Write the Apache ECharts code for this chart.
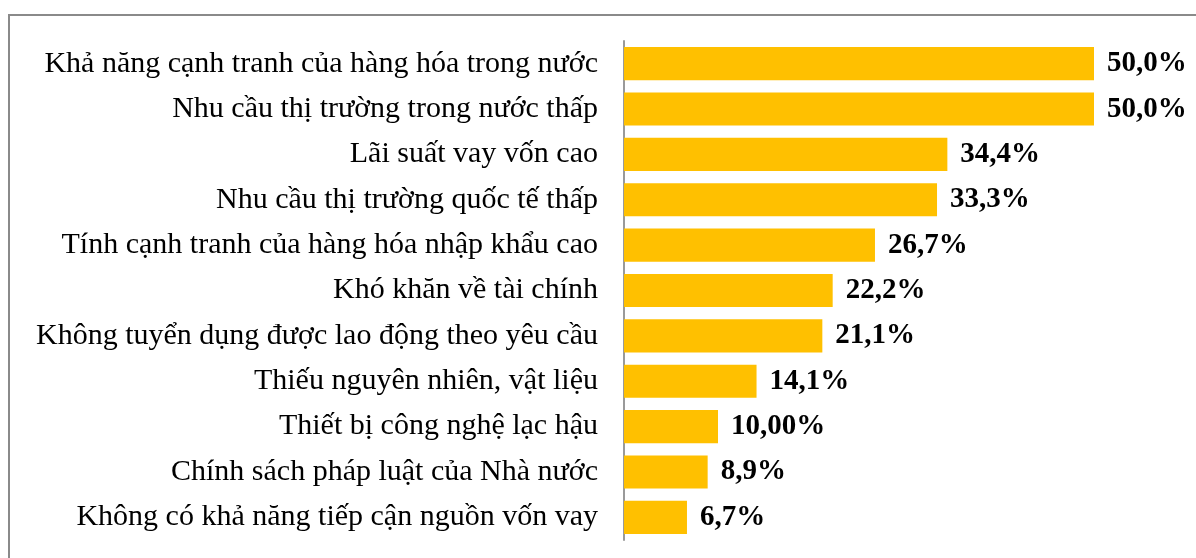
<!DOCTYPE html>
<html>
<head>
<meta charset="utf-8">
<script src="https://cdn.jsdelivr.net/npm/echarts@6/dist/echarts.min.js"></script>
<style>
    html, body { margin: 0; padding: 0; background: #fff; }
    #chart { width: 1196px; height: 558px; }
</style>
</head>
<body>
<div id="chart"></div>
<script>
// dữ liệu
var categories = [
    'Khả năng cạnh tranh của hàng hóa trong nước',
    'Nhu cầu thị trường trong nước thấp',
    'Lãi suất vay vốn cao',
    'Nhu cầu thị trường quốc tế thấp',
    'Tính cạnh tranh của hàng hóa nhập khẩu cao',
    'Khó khăn về tài chính',
    'Không tuyển dụng được lao động theo yêu cầu',
    'Thiếu nguyên nhiên, vật liệu',
    'Thiết bị công nghệ lạc hậu',
    'Chính sách pháp luật của Nhà nước',
    'Không có khả năng tiếp cận nguồn vốn vay'
];
var values = [50.0, 50.0, 34.4, 33.3, 26.7, 22.2, 21.1, 14.1, 10.0, 8.9, 6.7];
var valueLabels = ['50,0%', '50,0%', '34,4%', '33,3%', '26,7%', '22,2%', '21,1%', '14,1%', '10,00%', '8,9%', '6,7%'];

var chart = echarts.init(document.getElementById('chart'));
var option = {
    animation: false,
    graphic: [{
        type: 'rect',
        shape: { x: 9, y: 15, width: 1250, height: 600 },
        style: { fill: 'none', stroke: '#8a8a8a', lineWidth: 2 }
    }],
    grid: { left: 624, right: 102, top: 41, bottom: 18 },
    xAxis: {
        type: 'value',
        min: 0,
        max: 50,
        show: false
    },
    yAxis: {
        type: 'category',
        inverse: true,
        data: categories,
        axisLine: { show: true, lineStyle: { color: '#9a9a9a', width: 2 } },
        axisTick: { show: false },
        axisLabel: {
            margin: 26,
            color: '#000',
            fontFamily: 'Liberation Serif',
            fontSize: 30
        }
    },
    series: [{
        type: 'bar',
        data: values,
        barCategoryGap: '27%',
        itemStyle: { color: '#FFC000' },
        label: {
            show: true,
            position: 'right',
            distance: 13,
            color: '#000',
            fontFamily: 'Liberation Serif',
            fontWeight: 'bold',
            fontSize: 29,
            formatter: function (p) { return valueLabels[p.dataIndex]; }
        }
    }]
};
chart.setOption(option);
</script>
</body>
</html>
